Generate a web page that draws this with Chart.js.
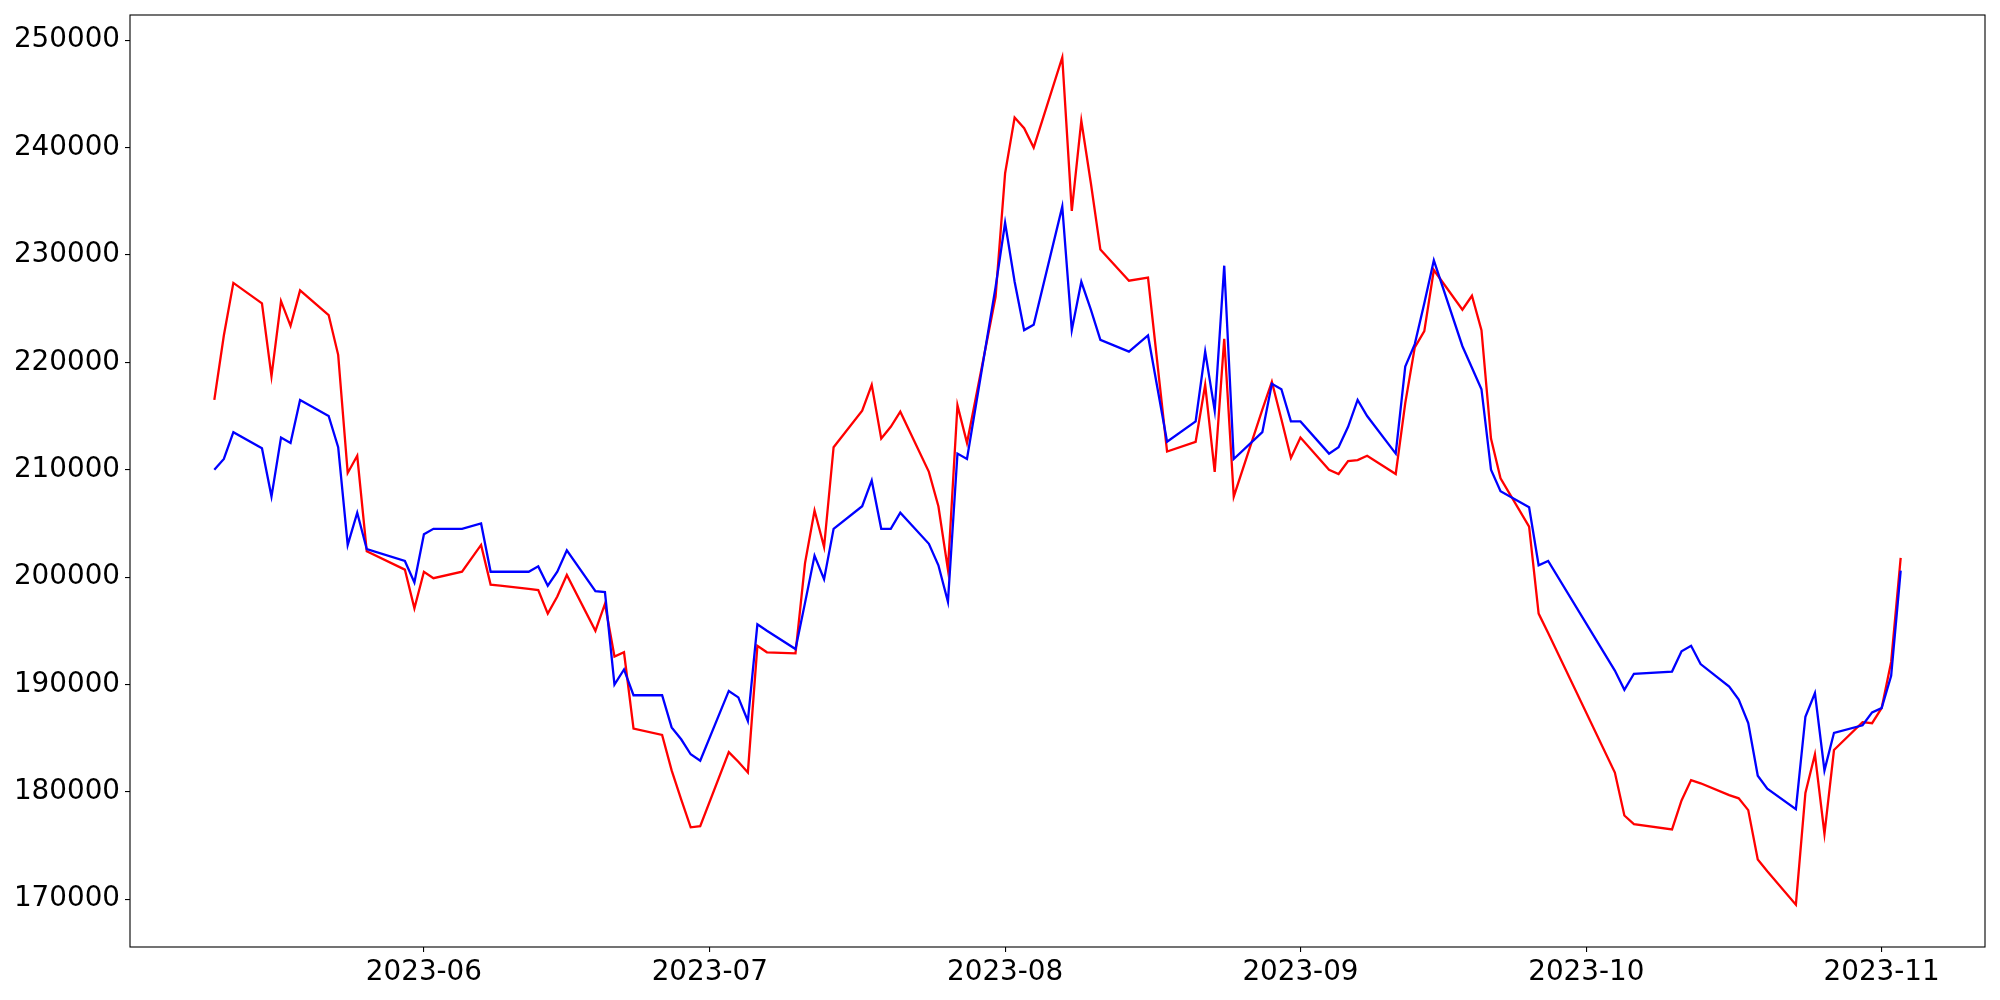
<!DOCTYPE html>
<html>
<head>
<meta charset="utf-8">
<script src="https://cdn.jsdelivr.net/npm/chart.js@4.4.1/dist/chart.umd.min.js"></script>
<style>
  html, body { margin: 0; padding: 0; background: #fff; }
  #wrap { width: 2000px; height: 1000px; }
</style>
</head>
<body>
<div id="wrap"><canvas id="chart" width="2000" height="1000"></canvas></div>
<script>
// dates of the samples
const dates = [
  '2023-05-10', '2023-05-11', '2023-05-12', '2023-05-15', '2023-05-16', '2023-05-17', '2023-05-18', '2023-05-19',
  '2023-05-22', '2023-05-23', '2023-05-24', '2023-05-25', '2023-05-26', '2023-05-30', '2023-05-31',
  '2023-06-01', '2023-06-02', '2023-06-05', '2023-06-07', '2023-06-08', '2023-06-09', '2023-06-12', '2023-06-13',
  '2023-06-14', '2023-06-15', '2023-06-16', '2023-06-19', '2023-06-20', '2023-06-21', '2023-06-22', '2023-06-23',
  '2023-06-26', '2023-06-27', '2023-06-28', '2023-06-29', '2023-06-30',
  '2023-07-03', '2023-07-04', '2023-07-05', '2023-07-06', '2023-07-07', '2023-07-10', '2023-07-11', '2023-07-12',
  '2023-07-13', '2023-07-14', '2023-07-17', '2023-07-18', '2023-07-19', '2023-07-20', '2023-07-21', '2023-07-24',
  '2023-07-25', '2023-07-26', '2023-07-27', '2023-07-28', '2023-07-31',
  '2023-08-01', '2023-08-02', '2023-08-03', '2023-08-04', '2023-08-07', '2023-08-08', '2023-08-09', '2023-08-10',
  '2023-08-11', '2023-08-14', '2023-08-16', '2023-08-18', '2023-08-21', '2023-08-22', '2023-08-23', '2023-08-24',
  '2023-08-25', '2023-08-28', '2023-08-29', '2023-08-30', '2023-08-31',
  '2023-09-01', '2023-09-04', '2023-09-05', '2023-09-06', '2023-09-07', '2023-09-08', '2023-09-11', '2023-09-12',
  '2023-09-13', '2023-09-14', '2023-09-15', '2023-09-18', '2023-09-19', '2023-09-20', '2023-09-21', '2023-09-22',
  '2023-09-25', '2023-09-26', '2023-09-27',
  '2023-10-04', '2023-10-05', '2023-10-06', '2023-10-10', '2023-10-11', '2023-10-12', '2023-10-13', '2023-10-16',
  '2023-10-17', '2023-10-18', '2023-10-19', '2023-10-20', '2023-10-23', '2023-10-24', '2023-10-25', '2023-10-26',
  '2023-10-27', '2023-10-30', '2023-10-31',
  '2023-11-01', '2023-11-02', '2023-11-03'
];

// red series
const redValues = [
  216500, 222500, 227400, 225500, 218700, 225700, 223400, 226700,
  224400, 220700, 209700, 211300, 202400, 200700, 197100,
  200500, 199900, 200500, 203000, 199300, 199200, 198900, 198800,
  196600, 198200, 200200, 195000, 197500, 192600, 193000, 185900,
  185300, 182000, 179300, 176700, 176800,
  183700, 182800, 181800, 193600, 193000, 192900, 201300, 206200,
  202800, 212100, 215500, 217900, 212900, 214000, 215400, 209800,
  206600, 200700, 216000, 212500, 226100,
  237600, 242800, 241800, 240000, 248400, 234100, 242500, 236700,
  230500, 227600, 227900, 211700, 212600, 217900, 209800, 222200,
  207500, 215600, 218200, 214700, 211100,
  213000, 210000, 209600, 210800, 210900, 211300, 209600, 216200,
  221400, 222900, 228600, 224900, 226200, 223000, 212900, 209200,
  204700, 196600, 194800,
  181800, 177800, 177000, 176500, 179200, 181100, 180800, 179700,
  179400, 178300, 173700, 172600, 169500, 179900, 183500, 176100,
  183900, 186500, 186400,
  187800, 192100, 201800
];

// blue series
const blueValues = [
  210000, 211000, 213500, 212000, 207500, 213000, 212500, 216500,
  215000, 212100, 203000, 206000, 202600, 201500, 199500,
  204000, 204500, 204500, 205000, 200500, 200500, 200500, 201000,
  199200, 200500, 202500, 198700, 198600, 190000, 191400, 189000,
  189000, 186000, 184900, 183500, 182900,
  189400, 188800, 186600, 195600, 195000, 193300, 197600, 202000,
  199800, 204500, 206600, 209000, 204500, 204500, 206000, 203100,
  201100, 197700, 211500, 211000, 227000,
  233000, 227500, 223000, 223500, 234500, 223000, 227500, 224900,
  222100, 221000, 222500, 212600, 214500, 221000, 215500, 229000,
  211000, 213500, 218000, 217500, 214500,
  214500, 211500, 212100, 214000, 216500, 215000, 211500, 219600,
  221700, 225500, 229500, 221500, 219500, 217500, 210000, 208000,
  206500, 201100, 201500,
  191300, 189500, 191000, 191200, 193100, 193600, 191900, 189800,
  188600, 186400, 181500, 180300, 178400, 187000, 189200, 182000,
  185500, 186200, 187400,
  187800, 190800, 200600
];

// axis ticks
const xTickLabels = ['2023-06', '2023-07', '2023-08', '2023-09', '2023-10', '2023-11'];
const yTickValues = [170000, 180000, 190000, 200000, 210000, 220000, 230000, 240000, 250000];

// 日期轉成天數
function dayNum(s) {
  var p = s.split('-').map(Number);
  return Date.UTC(p[0], p[1] - 1, p[2] || 1) / 86400000;
}

var xs = dates.map(dayNum);
var xMin = Math.min(...xs), xMax = Math.max(...xs);
var xPad = (xMax - xMin) * 0.05;
var allY = redValues.concat(blueValues);
var yMin = Math.min(...allY), yMax = Math.max(...allY);
var yPad = (yMax - yMin) * 0.05;

Chart.defaults.font.family = "'DejaVu Sans', sans-serif";
Chart.defaults.font.size = 27.8;
Chart.defaults.color = '#000';

// 外框
const framePlugin = {
  id: 'frame',
  afterDraw(chart) {
    var a = chart.chartArea, ctx = chart.ctx;
    ctx.save();
    ctx.strokeStyle = '#000';
    ctx.lineWidth = 1.1;
    ctx.strokeRect(a.left, a.top, a.right - a.left, a.bottom - a.top);
    ctx.restore();
  }
};

var ctx = document.getElementById('chart').getContext('2d');
var chart = new Chart(ctx, {
  type: 'line',
  data: {
    datasets: [
      {
        label: 'red',
        data: xs.map((x, i) => ({ x: x, y: redValues[i] })),
        borderColor: '#ff0000',
        borderWidth: 2.3,
        pointRadius: 0,
        fill: false,
        tension: 0,
        order: 1
      },
      {
        label: 'blue',
        data: xs.map((x, i) => ({ x: x, y: blueValues[i] })),
        borderColor: '#0000ff',
        borderWidth: 2.3,
        pointRadius: 0,
        fill: false,
        tension: 0,
        order: 0
      }
    ]
  },
  options: {
    responsive: false,
    animation: false,
    layout: { padding: { left: 0, right: 15, top: 15, bottom: 0 } },
    plugins: {
      legend: { display: false },
      tooltip: { enabled: false }
    },
    scales: {
      x: {
        type: 'linear',
        min: xMin - xPad,
        max: xMax + xPad,
        border: { display: false },
        grid: { drawOnChartArea: false, color: '#000', lineWidth: 1.1, tickLength: 5 },
        ticks: {
          autoSkip: false,
          maxRotation: 0,
          padding: 4,
          callback: function (value) {
            var lab = xTickLabels.find(l => dayNum(l + '-01') === value);
            return lab || '';
          }
        },
        afterBuildTicks: function (scale) {
          scale.ticks = xTickLabels.map(l => ({ value: dayNum(l + '-01') }));
        },
        afterFit: function (scale) {
          scale.height = 53;
          scale.paddingLeft = 0;
          scale.paddingRight = 0;
        }
      },
      y: {
        type: 'linear',
        min: yMin - yPad,
        max: yMax + yPad,
        border: { display: false },
        grid: { drawOnChartArea: false, color: '#000', lineWidth: 1.1, tickLength: 5 },
        ticks: {
          padding: 5,
          callback: function (value) { return String(value); }
        },
        afterBuildTicks: function (scale) {
          scale.ticks = yTickValues.map(v => ({ value: v }));
        },
        afterFit: function (scale) {
          scale.width = 130;
          scale.paddingTop = 0;
          scale.paddingBottom = 0;
        }
      }
    }
  },
  plugins: [framePlugin]
});
</script>
</body>
</html>
